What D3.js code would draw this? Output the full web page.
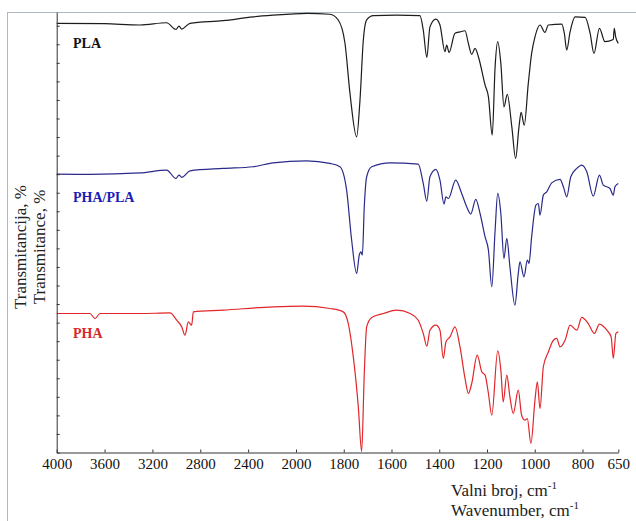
<!DOCTYPE html>
<html>
<head>
<meta charset="utf-8">
<script src="https://cdn.jsdelivr.net/npm/d3@7"></script>
<style>
  body { margin: 0; background: #fff; }
  svg text { font-family: "Liberation Serif", "Times New Roman", serif; }
  .axis path, .axis line { stroke: #333; }
  .axis text { font-size: 15px; fill: #111; }
</style>
</head>
<body>
<div id="chart"></div>
<script>
var width = 636,
    height = 521;

// wavenumber (cm-1) and offset transmittance (one y tick = 1 unit)
var plaWn = [4000, 3600, 3304, 3081, 3003, 2978, 2955, 2886, 2610, 2359, 2192, 2050, 1955, 1858,
  1823, 1795, 1774, 1746, 1732, 1718, 1704, 1676, 1578, 1481, 1467, 1452, 1439, 1414, 1397,
  1376, 1369, 1359, 1334, 1313, 1292, 1278, 1264, 1250, 1236, 1208, 1194, 1178, 1166, 1155,
  1142, 1129, 1115, 1096, 1080, 1066, 1057, 1044, 1027, 1013, 999, 978, 957, 943, 887, 876,
  866, 852, 831, 789, 768, 752, 729, 706, 671, 667, 661, 650];
var plaT = [23.13, 23.11, 23.04, 23.16, 22.80, 22.98, 22.82, 23.13, 23.27, 23.48, 23.57, 23.63, 23.67, 23.62,
  23.31, 22.07, 19.37, 17.01, 18.99, 22.23, 23.31, 23.54, 23.57, 23.54, 22.77, 21.29, 22.94, 23.36, 23.04,
  21.60, 21.96, 21.56, 22.59, 22.67, 22.73, 22.05, 21.46, 21.78, 21.33, 19.80, 19.17, 17.11, 20.79, 22.14,
  20.97, 18.63, 19.30, 17.55, 15.85, 17.55, 18.33, 17.64, 19.89, 21.51, 22.40, 23.04, 22.64, 23.04, 23.09, 22.59,
  21.69, 22.67, 23.48, 23.45, 22.59, 21.51, 22.86, 22.14, 22.26, 22.86, 22.40, 22.05];

var blendWn = [4000, 3722, 3304, 3081, 3003, 2978, 2955, 2886, 2610, 2359, 2192, 1955, 1858, 1816,
  1788, 1767, 1746, 1735, 1728, 1722, 1714, 1704, 1683, 1606, 1488, 1467, 1452, 1439, 1414, 1397,
  1380, 1372, 1362, 1331, 1306, 1285, 1268, 1247, 1229, 1208, 1194, 1180, 1166, 1155, 1142, 1129,
  1117, 1104, 1083, 1069, 1062, 1045, 1031, 1024, 1013, 995, 985, 978, 964, 950, 929, 894, 880,
  866, 849, 824, 803, 782, 755, 729, 713, 685, 671, 664, 650];
var blendT = [15.00, 14.99, 15.07, 15.22, 14.77, 14.95, 14.83, 15.18, 15.31, 15.40, 15.61, 15.72, 15.58, 15.40,
  14.14, 11.45, 9.65, 10.64, 10.81, 10.64, 13.24, 14.86, 15.40, 15.61, 15.54, 14.50, 13.55, 14.86, 15.26, 14.68,
  13.39, 13.78, 13.69, 14.68, 13.96, 13.24, 12.85, 13.64, 12.88, 11.62, 10.91, 8.93, 11.98, 13.96, 12.88, 10.46,
  11.54, 10.01, 7.94, 9.65, 10.28, 9.47, 10.37, 10.19, 11.62, 13.33, 13.42, 12.79, 13.87, 14.05, 14.53, 14.72, 14.32,
  13.78, 14.86, 15.31, 15.49, 15.13, 13.82, 14.95, 14.41, 14.23, 13.87, 14.32, 14.50];

var phaWn = [4000, 3722, 3680, 3638, 3304, 3053, 2997, 2955, 2928, 2900, 2872, 2858, 2610, 2192, 1971,
  1858, 1802, 1781, 1760, 1739, 1725, 1714, 1704, 1683, 1634, 1578, 1522, 1488, 1467, 1452, 1439,
  1414, 1397, 1383, 1372, 1355, 1334, 1313, 1292, 1278, 1264, 1241, 1222, 1208, 1194, 1180, 1155,
  1142, 1132, 1117, 1104, 1090, 1069, 1055, 1041, 1031, 1016, 999, 989, 978, 964, 943, 922, 908,
  894, 873, 852, 824, 803, 776, 750, 729, 698, 680, 671, 660, 650];
var phaT = [7.49, 7.49, 7.22, 7.49, 7.49, 7.52, 7.13, 6.77, 6.32, 7.04, 6.86, 7.58, 7.67, 7.85, 7.89,
  7.76, 7.58, 6.95, 5.15, 2.46, 0.05, 4.26, 6.77, 7.28, 7.49, 7.67, 7.49, 7.13, 6.42, 5.73, 6.59,
  6.86, 6.59, 5.07, 5.96, 6.23, 6.77, 5.69, 3.99, 3.18, 3.72, 5.25, 4.35, 4.17, 3.18, 2.01, 5.48,
  4.44, 2.73, 4.17, 3.00, 2.10, 3.36, 2.01, 1.74, 1.83, 0.49, 2.82, 3.81, 2.37, 4.62, 5.42, 6.05, 6.15,
  5.69, 6.05, 6.86, 6.59, 7.28, 6.95, 6.42, 6.92, 6.59, 6.23, 5.07, 6.42, 6.50];

var xTicks = [4000, 3600, 3200, 2800, 2400, 2000, 1800, 1600, 1400, 1200, 1000, 800, 650];
var yTicks = d3.range(0, 24);

var seriesNames = ["PLA", "PHA/PLA", "PHA"];
var lineColors = ["#1c1c1c", "#2a2a8a", "#e0262a"];
var labelColors = ["#111111", "#1c1cb4", "#d62a2a"];

var svg = d3.select("#chart").append("svg")
    .attr("width", width)
    .attr("height", height);

// frame round the figure
svg.append("rect")
    .attr("x", 7.5).attr("y", 12.5)
    .attr("width", 640).attr("height", 520)
    .attr("fill", "none")
    .attr("stroke", "#aeb8c4");

// scale break at 2000 cm-1
var x = d3.scaleLinear()
    .domain([4000, 2000, 650])
    .range([56.7, 296, 618.3]);

var y = d3.scaleLinear()
    .domain([0, 23.74])
    .range([452.5, 12]);

var line = d3.line()
    .x(function(d) { return x(d[0]); })
    .y(function(d) { return y(d[1]); })
    .curve(d3.curveMonotoneX);

var series = [d3.zip(plaWn, plaT), d3.zip(blendWn, blendT), d3.zip(phaWn, phaT)];

svg.selectAll("path.spec")
    .data(series)
  .enter().append("path")
    .attr("class", "spec")
    .attr("d", line)
    .attr("fill", "none")
    .attr("stroke", function(d, i) { return lineColors[i]; })
    .attr("stroke-width", 1.2);

// axes
svg.append("g")
    .attr("class", "axis")
    .attr("transform", "translate(0," + y(0) + ")")
    .call(d3.axisBottom(x).tickValues(xTicks).tickSize(-3).tickSizeOuter(0).tickPadding(6).tickFormat(d3.format("d")));

svg.append("g")
    .attr("class", "axis")
    .attr("transform", "translate(" + x(4000) + ",0)")
    .call(d3.axisLeft(y).tickValues(yTicks).tickSize(-3).tickSizeOuter(0).tickFormat(""));

// series labels
var labelY = [48, 202, 338];
svg.selectAll("text.lab")
    .data(seriesNames)
  .enter().append("text")
    .attr("class", "lab")
    .attr("x", 73)
    .attr("y", function(d, i) { return labelY[i]; })
    .attr("fill", function(d, i) { return labelColors[i]; })
    .style("font-size", "14px")
    .style("font-weight", "bold")
    .text(function(d) { return d; });

// y title
var yt = svg.append("text")
    .attr("transform", "translate(26,247) rotate(-90)")
    .attr("text-anchor", "middle")
    .style("font-size", "17px")
    .attr("fill", "#222");
yt.append("tspan").attr("x", 0).attr("dy", 0).text("Transmitancija, %");
yt.append("tspan").attr("x", 0).attr("dy", 19).text("Transmitance, %");

// x title
var xTitles = ["Valni broj, cm", "Wavenumber, cm"];
svg.selectAll("text.xt")
    .data(xTitles)
  .enter().append("text")
    .attr("class", "xt")
    .attr("x", 451)
    .attr("y", function(d, i) { return 496 + i * 20; })
    .attr("fill", "#222")
    .style("font-size", "17px")
    .each(function(d) {
      var t = d3.select(this);
      t.append("tspan").text(d);
      t.append("tspan").attr("dy", -7).style("font-size", "11px").text("-1");
    });
</script>
</body>
</html>
